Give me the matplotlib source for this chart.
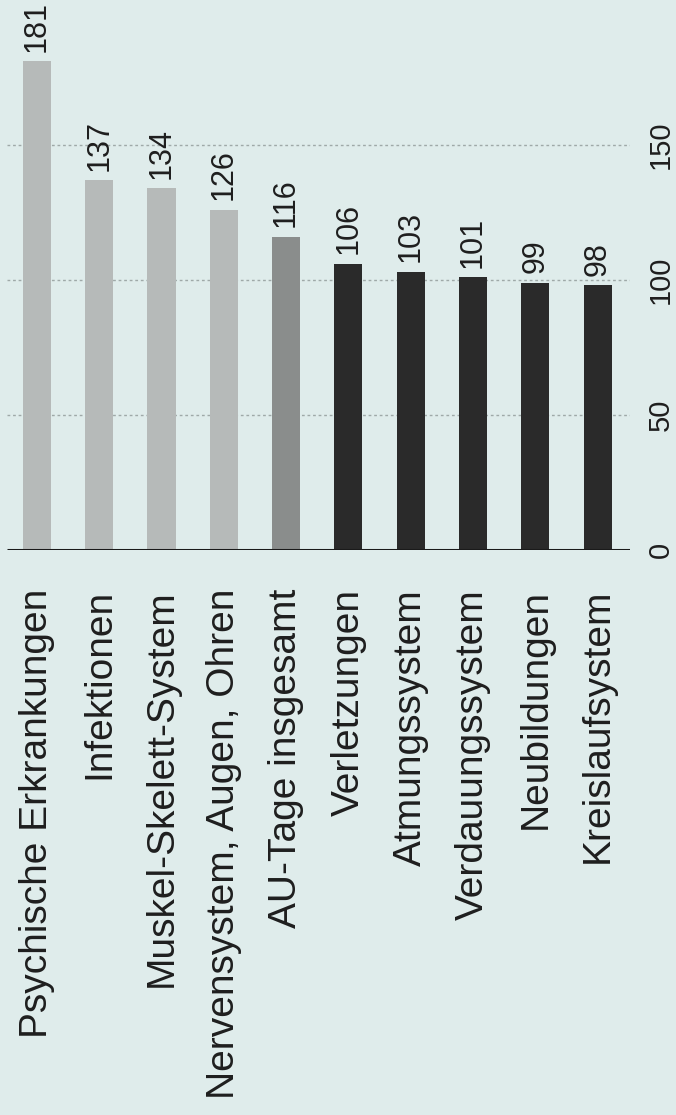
import numpy as np
import matplotlib
matplotlib.use("Agg")
import matplotlib.pyplot as plt

# AU-Tage je Fall, Index (rotated bar chart)
kategorien = ["Psychische Erkrankungen", "Infektionen", "Muskel-Skelett-System",
              "Nervensystem, Augen, Ohren", "AU-Tage insgesamt", "Verletzungen",
              "Atmungssystem", "Verdauungssystem", "Neubildungen", "Kreislaufsystem"]
werte = [181, 137, 134, 126, 116, 106, 103, 101, 99, 98]
gruppe = ["hell", "hell", "hell", "hell", "mittel", "dunkel", "dunkel", "dunkel", "dunkel", "dunkel"]
y_ticks = [0, 50, 100, 150]

farben = {"hell": "#b6bab9", "mittel": "#8a8d8c", "dunkel": "#2a2a2a"}
bg = "#dfeceb"
txt = "#1e1e1e"

plt.rcParams['font.family'] = ['Liberation Sans', 'DejaVu Sans']

fig = plt.figure(figsize=(6.76, 11.15), dpi=100, facecolor=bg)
W, H = 676, 1115
ax = fig.add_axes([7 / W, (H - 550) / H, (630 - 7) / W, 550 / H])
ax.set_facecolor(bg)

x = np.arange(len(kategorien))
ax.bar(x, werte, width=0.45, color=[farben[g] for g in gruppe], zorder=2)

# gridlines
for t in y_ticks[1:]:
    ax.axhline(t, color="#9fa9a8", lw=1.0, linestyle=(0, (2, 2)), zorder=1)
ax.hlines(0, -0.48, 9.52, color="#1a1a1a", lw=2.2, zorder=3)

for xi, v in zip(x, werte):
    ax.text(xi, v + 3.5, str(v), rotation=90, ha="center", va="bottom",
            fontsize=22, color=txt, clip_on=False)

ax.set_xlim(-0.48, 9.52)
ax.set_ylim(0, 203.7)
ax.set_xticks(x)
ax.set_xticklabels(kategorien, rotation=90, ha="center", va="top", fontsize=28, color=txt)
ax.tick_params(axis="x", length=0, pad=28)

ax.yaxis.tick_right()
ax.set_yticks(y_ticks)
ax.set_yticklabels([str(t) for t in y_ticks], rotation=90, va="center", ha="left",
                   fontsize=21, color=txt)
ax.tick_params(axis="y", length=0, pad=12)

for s in ax.spines.values():
    s.set_visible(False)

fig.savefig("out.png", dpi=100, facecolor=bg)
